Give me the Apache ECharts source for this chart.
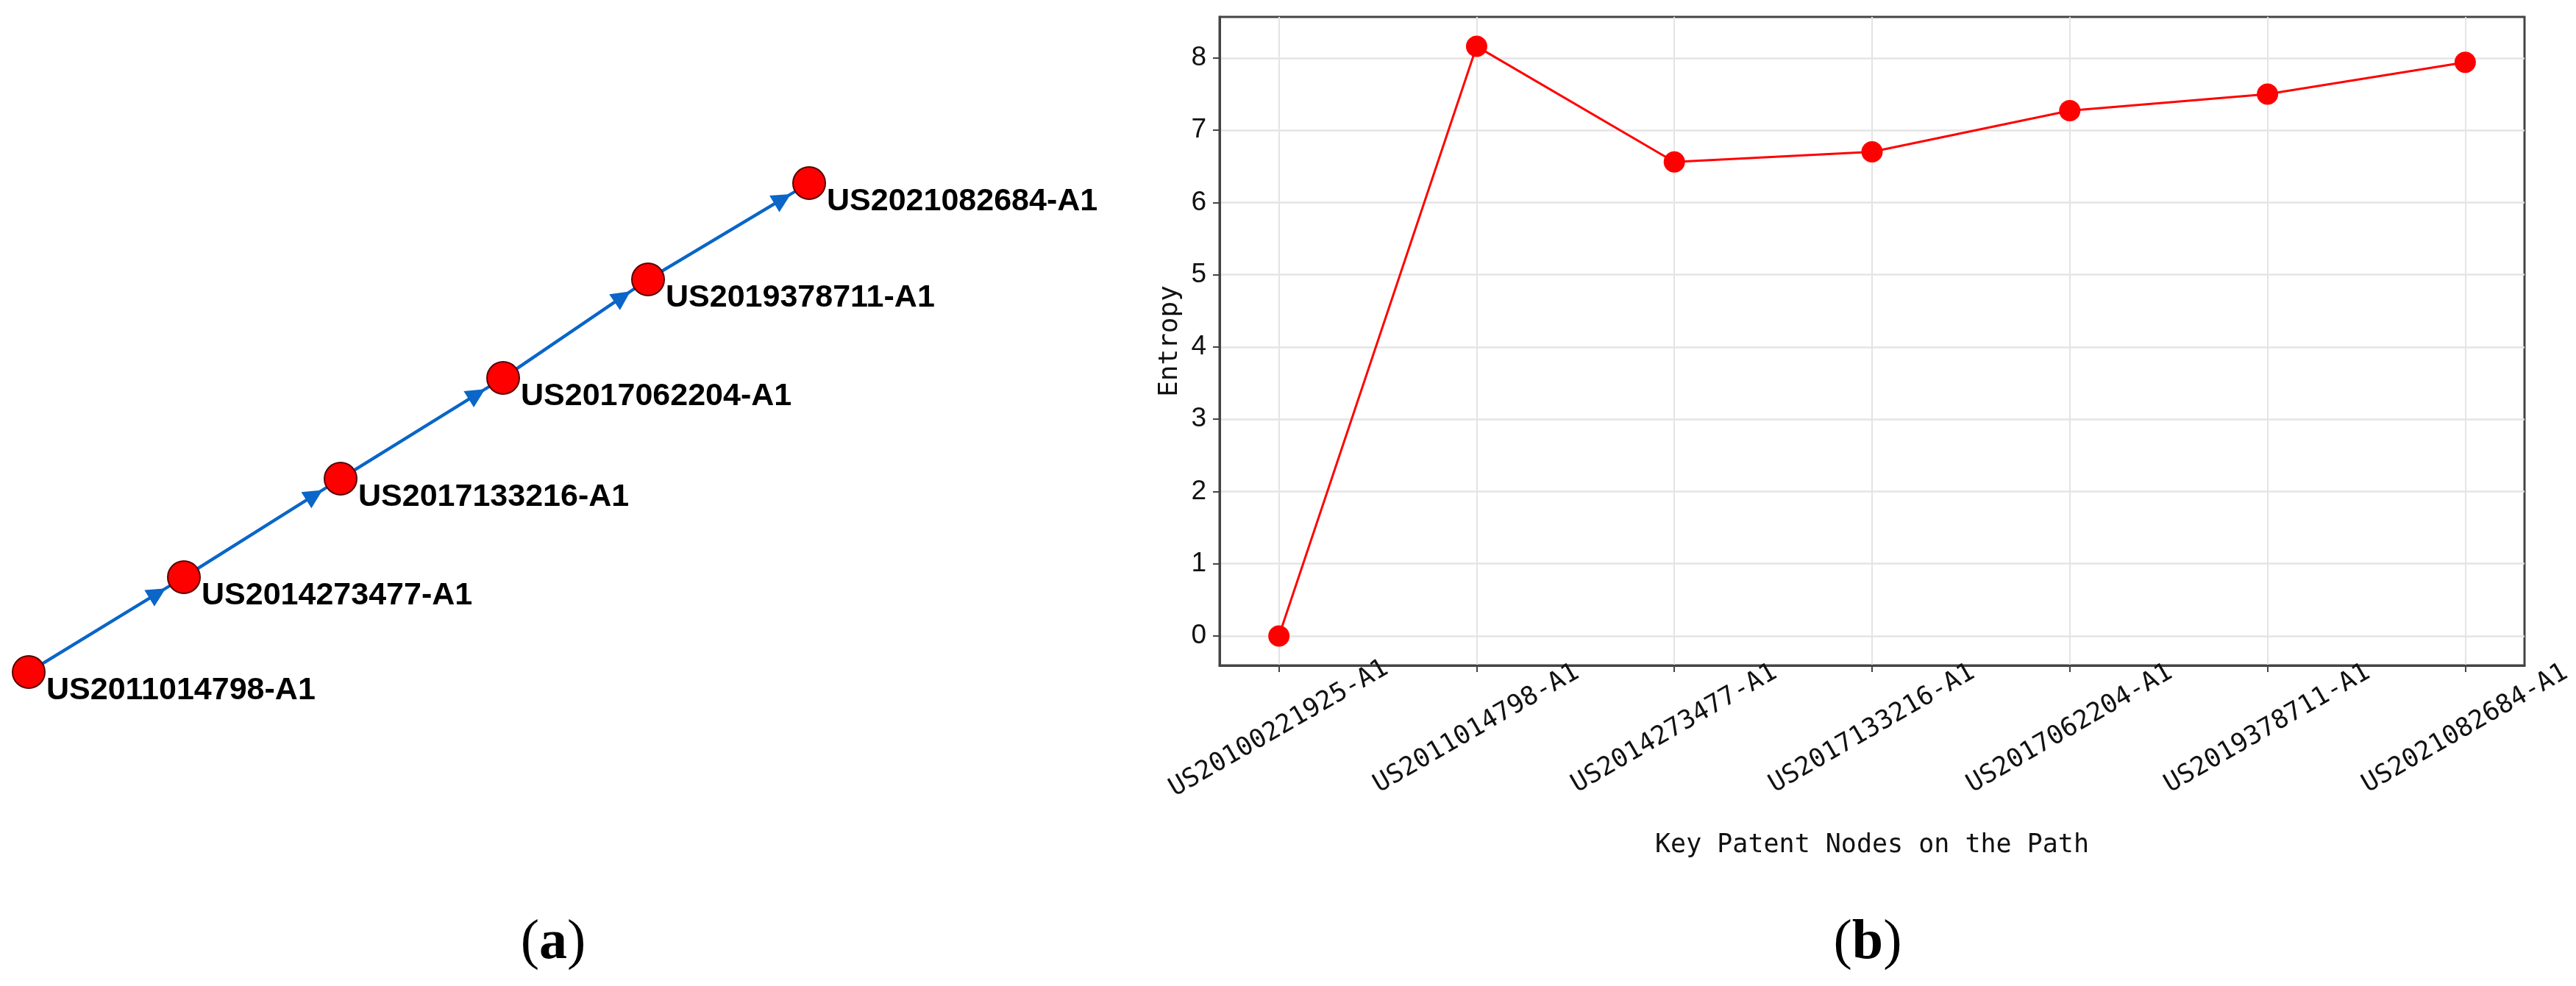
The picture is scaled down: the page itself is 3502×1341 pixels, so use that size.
<!DOCTYPE html>
<html>
<head>
<meta charset="utf-8">
<title>Key patent path and entropy</title>
<script src="https://cdn.jsdelivr.net/npm/echarts@6.0.0/dist/echarts.min.js"></script>
<style>
  html, body { margin: 0; padding: 0; background: #fff; }
  #main { width: 3502px; height: 1341px; }
</style>
</head>
<body>
<div id="main"></div>
<script>
// (a) path of key patents, layout units (origin at the first node, y up)
const nodeNames = [
  'US2011014798-A1',
  'US2014273477-A1',
  'US2017133216-A1',
  'US2017062204-A1',
  'US2019378711-A1',
  'US2021082684-A1'
]
const nodeX = [0, 211, 424, 645, 842, 1061]
const nodeY = [0, 129, 263, 400, 534, 665]

// (b) entropy of the key patent nodes on the path
const categories = [
  'US20100221925-A1',
  'US2011014798-A1',
  'US2014273477-A1',
  'US2017133216-A1',
  'US2017062204-A1',
  'US2019378711-A1',
  'US2021082684-A1'
]
const entropy = [0, 8.16, 6.56, 6.7, 7.27, 7.5, 7.94]
const yTicks = [0, 1, 2, 3, 4, 5, 6, 7, 8]

const chartDom = document.getElementById('main')
const myChart = echarts.init(chartDom, null, { renderer: 'canvas' })

// nodes + edges for the network panel
const nodes = nodeNames.map((name, i) => [nodeX[i], nodeY[i], name])
const edges = []
const arrows = []
const arrowBack = 42 // arrow head sits just before the target node
for (let i = 0; i < nodes.length - 1; i++) {
  const s = nodes[i]
  const t = nodes[i + 1]
  const dx = t[0] - s[0]
  const dy = t[1] - s[1]
  const len = Math.sqrt(dx * dx + dy * dy)
  edges.push({ coords: [[s[0], s[1]], [t[0], t[1]]] })
  arrows.push({
    coords: [[s[0], s[1]], [t[0] - (dx / len) * arrowBack, t[1] - (dy / len) * arrowBack]]
  })
}

// matplotlib-like 5% margins
const xPad = (categories.length - 1) * 0.05
const yPad = (Math.max(...entropy) - Math.min(...entropy)) * 0.05
const xValues = categories.map((c, i) => i)

const monoFont = 'DejaVu Sans Mono'
const edgeColor = '#0a66c8'

const option = {
  backgroundColor: '#fff',
  animation: false,
  grid: [
    {
      left: 1658,
      top: 23,
      width: 1774,
      height: 882,
      show: true,
      borderColor: '#444',
      borderWidth: 3,
      backgroundColor: 'transparent'
    },
    {
      left: 0,
      top: 0,
      width: 1560,
      height: 1341,
      show: false
    }
  ],
  xAxis: [
    {
      gridIndex: 0,
      type: 'value',
      min: -xPad,
      max: categories.length - 1 + xPad,
      axisLine: { show: true, onZero: false, lineStyle: { color: '#444', width: 3 } },
      axisTick: {
        show: true,
        customValues: xValues,
        length: 9,
        lineStyle: { color: '#444', width: 2 }
      },
      axisLabel: {
        customValues: xValues,
        rotate: 30,
        align: 'center',
        verticalAlign: 'middle',
        margin: 86,
        color: '#111',
        fontFamily: monoFont,
        fontSize: 35,
        formatter: (v) => categories[Math.round(v)]
      },
      splitLine: { show: true, lineStyle: { color: '#e4e4e4', width: 2 } },
      name: 'Key Patent Nodes on the Path',
      nameLocation: 'middle',
      nameGap: 245,
      nameTextStyle: {
        color: '#111',
        fontFamily: monoFont,
        fontSize: 35,
        verticalAlign: 'middle'
      }
    },
    {
      gridIndex: 1,
      type: 'value',
      min: -39,
      max: 1521,
      show: false
    }
  ],
  yAxis: [
    {
      gridIndex: 0,
      type: 'value',
      min: Math.min(...entropy) - yPad,
      max: Math.max(...entropy) + yPad,
      axisLine: { show: true, onZero: false, lineStyle: { color: '#444', width: 3 } },
      axisTick: {
        show: true,
        customValues: yTicks,
        length: 9,
        lineStyle: { color: '#444', width: 2 }
      },
      axisLabel: {
        customValues: yTicks,
        margin: 18,
        color: '#111',
        fontFamily: 'Liberation Sans',
        fontSize: 37
      },
      splitLine: { show: true, lineStyle: { color: '#e4e4e4', width: 2.5 } },
      name: 'Entropy',
      nameLocation: 'middle',
      nameGap: 66,
      nameTextStyle: {
        color: '#111',
        fontFamily: monoFont,
        fontSize: 36,
        verticalAlign: 'middle'
      }
    },
    {
      gridIndex: 1,
      type: 'value',
      min: -427,
      max: 914,
      show: false
    }
  ],
  series: [
    {
      name: 'Entropy',
      type: 'line',
      xAxisIndex: 0,
      yAxisIndex: 0,
      data: entropy.map((v, i) => [i, v]),
      symbol: 'circle',
      symbolSize: 29,
      itemStyle: { color: '#ff0000' },
      lineStyle: { color: '#ff0000', width: 3 },
      z: 5
    },
    {
      name: 'edges',
      type: 'lines',
      coordinateSystem: 'cartesian2d',
      xAxisIndex: 1,
      yAxisIndex: 1,
      data: edges,
      symbol: ['none', 'none'],
      lineStyle: { color: edgeColor, width: 4, opacity: 1, curveness: 0 },
      z: 2
    },
    {
      name: 'arrows',
      type: 'lines',
      coordinateSystem: 'cartesian2d',
      xAxisIndex: 1,
      yAxisIndex: 1,
      data: arrows,
      symbol: ['none', 'triangle'],
      symbolSize: 26,
      lineStyle: { color: edgeColor, width: 4, opacity: 1, curveness: 0 },
      z: 3
    },
    {
      name: 'nodes',
      type: 'scatter',
      xAxisIndex: 1,
      yAxisIndex: 1,
      data: nodes,
      symbol: 'circle',
      symbolSize: 44,
      itemStyle: { color: '#ff0000', borderColor: '#5a0000', borderWidth: 2, opacity: 1 },
      label: {
        show: true,
        position: [47, 27],
        align: 'left',
        verticalAlign: 'top',
        formatter: (p) => p.data[2],
        color: '#000',
        fontFamily: 'Liberation Sans',
        fontWeight: 'bold',
        fontSize: 43
      },
      z: 4
    }
  ],
  graphic: [
    {
      type: 'text',
      x: 752,
      y: 1283,
      style: {
        text: '{p|(}{l|a}{p|)}',
        align: 'center',
        verticalAlign: 'middle',
        rich: {
          p: { fontFamily: 'Liberation Serif', fontSize: 76, fill: '#000' },
          l: { fontFamily: 'Liberation Serif', fontSize: 76, fontWeight: 'bold', fill: '#000' }
        }
      }
    },
    {
      type: 'text',
      x: 2539,
      y: 1283,
      style: {
        text: '{p|(}{l|b}{p|)}',
        align: 'center',
        verticalAlign: 'middle',
        rich: {
          p: { fontFamily: 'Liberation Serif', fontSize: 76, fill: '#000' },
          l: { fontFamily: 'Liberation Serif', fontSize: 76, fontWeight: 'bold', fill: '#000' }
        }
      }
    }
  ]
}

myChart.setOption(option)
</script>
</body>
</html>
